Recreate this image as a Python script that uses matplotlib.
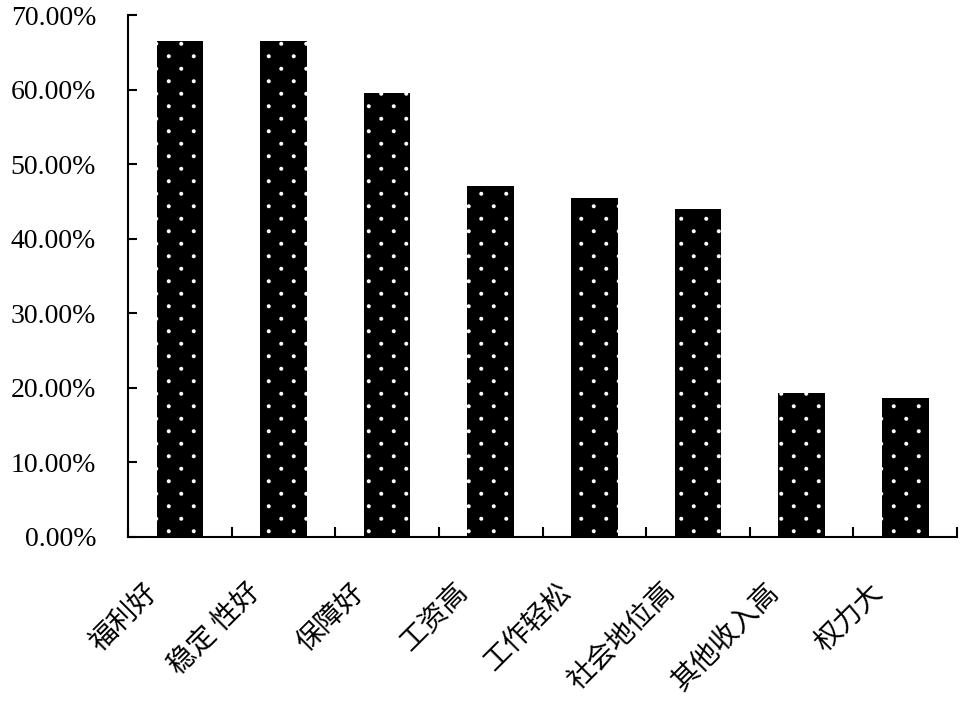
import matplotlib

matplotlib.use("Agg")
import numpy as np
import matplotlib.pyplot as plt
import matplotlib.hatch as mhatch
import matplotlib.transforms as mtransforms
from matplotlib.path import Path
from matplotlib.ticker import FixedLocator

categories = ["福利好", "稳定 性好", "保障好", "工资高", "工作轻松", "社会地位高", "其他收入高", "权力大"]
shares = [66.6, 66.6, 59.6, 47.1, 45.5, 44.0, 19.3, 18.6]
y_ticks = [0, 10, 20, 30, 40, 50, 60, 70]
y_tick_labels = [f"{v:.2f}%" for v in y_ticks]


class SparseDots(mhatch.HatchPatternBase):
    """'.' hatch drawn like the old Excel dot fill: 8 rows, 4 staggered columns per tile."""
    rows, cols, radius = 8, 4, 0.02

    def __init__(self, hatch, density):
        self.num_shapes = self.rows * self.cols if "." in hatch else 0
        self.num_vertices = self.num_shapes * len(Path.unit_circle().vertices)

    def set_vertices_and_codes(self, vertices, codes):
        circle = Path.unit_circle()
        verts, cods = [], []
        for r in range(self.rows):
            shift = 0.25 if r % 2 == 0 else 0.75
            for c in range(self.cols):
                centre = [(c + shift) / self.cols, (r + 0.5) / self.rows]
                verts.append(circle.vertices * self.radius + centre)
                cods.append(circle.codes)
        np.concatenate(verts, out=vertices)
        np.concatenate(cods, out=codes)


mhatch._hatch_types = [SparseDots if t is mhatch.SmallFilledCircles else t
                       for t in mhatch._hatch_types]

plt.rcParams["font.family"] = ["Noto Sans CJK SC", "DejaVu Sans"]
plt.rcParams["hatch.linewidth"] = 0.0

fig = plt.figure(figsize=(9.72, 7.02), dpi=100)
ax = fig.add_axes([0.1317, 0.2355, 0.8529, 0.7425])

x = list(range(len(categories)))
ax.bar(x, shares, width=0.45, color="black", edgecolor="white", linewidth=0, hatch=".")

ax.set_xlim(-0.5, len(categories) - 0.5)
ax.set_ylim(0, 70)

# y axis
ax.set_yticks(y_ticks)
ax.set_yticklabels(y_tick_labels, family="Liberation Serif", fontsize=20)
ax.tick_params(axis="y", direction="in", length=6.5, width=1.5, pad=23, colors="black")

# x axis: tick marks on category boundaries, labels at centers
ax.set_xticks(x)
ax.xaxis.set_minor_locator(FixedLocator([i + 0.5 for i in range(-1, len(categories))]))
ax.tick_params(axis="x", which="major", length=0, pad=0)
ax.tick_params(axis="x", which="minor", direction="in", length=7.5, width=1.5)
ax.set_xticklabels(categories, rotation=45, ha="right", va="center",
                   rotation_mode="anchor", fontsize=20)
shift = mtransforms.ScaledTranslation(-0.27, -0.51, fig.dpi_scale_trans)
for lbl in ax.get_xticklabels():
    lbl.set_transform(lbl.get_transform() + shift)

for side in ("top", "right"):
    ax.spines[side].set_visible(False)
for side in ("left", "bottom"):
    ax.spines[side].set_linewidth(1.5)
    ax.spines[side].set_color("black")

fig.savefig("out.png", dpi=100, facecolor="white")
plt.close(fig)
